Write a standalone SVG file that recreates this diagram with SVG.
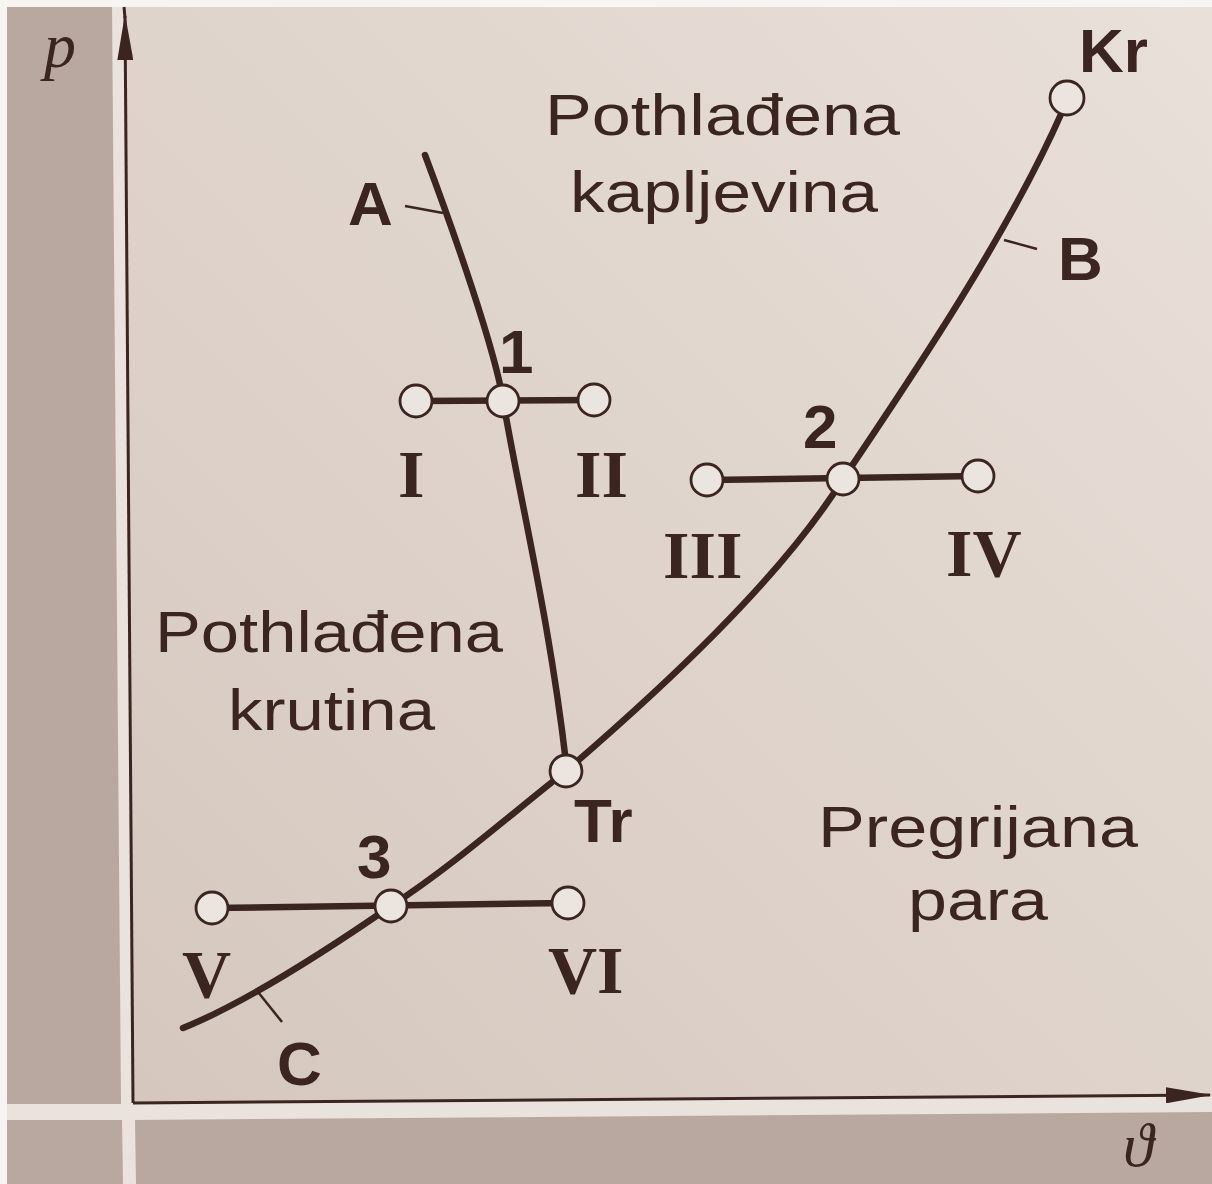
<svg xmlns="http://www.w3.org/2000/svg" width="1212" height="1184" viewBox="0 0 1212 1184">
<defs>
<style>
.ln{fill:none;stroke:#3a2521;stroke-width:6.5;stroke-linecap:round}
.tk{fill:none;stroke:#3a2521;stroke-width:2.5}
.ax{fill:none;stroke:#3a2521;stroke-width:3}
.nd{fill:#ece4de;stroke:#3a2521;stroke-width:2.8}
.rg{font-family:"Liberation Sans",Arial,sans-serif;font-size:58px;fill:#3a2521}
.bl{font-family:"Liberation Sans",Arial,sans-serif;font-weight:bold;font-size:62px;fill:#3a2521}
.rm{font-family:"Liberation Serif","Times New Roman",serif;font-weight:bold;font-size:68px;fill:#3a2521}
.it{font-family:"Liberation Serif","Times New Roman",serif;font-style:italic;fill:#3a2521}
.dk{fill:#b9a89f}
</style>
<linearGradient id="bg" x1="1" y1="0" x2="0" y2="1">
<stop offset="0" stop-color="#e9e0d9"/>
<stop offset="1" stop-color="#d5c7be"/>
</linearGradient>
<marker id="arr" viewBox="0 0 46 16" refX="44" refY="8" markerWidth="46" markerHeight="16" markerUnits="userSpaceOnUse" orient="auto">
<path d="M0,0 L46,8 L0,16 z" fill="#3a2521"/>
</marker>
</defs>

<g id="background">
<rect x="0" y="0" width="1212" height="1184" fill="#eae2dc"/>
<polygon class="dk" points="7,7 112,7 121,1104 7,1104"/>
<polygon class="dk" points="7,1120 122,1120 123,1184 7,1184"/>
<polygon class="dk" points="135,1120 1212,1112 1212,1184 136,1184"/>
<polygon points="125,7 1212,7 1212,1094 133,1103" fill="url(#bg)"/>
<rect x="0" y="0" width="1212" height="7" fill="#f7f4f1"/>
<rect x="0" y="0" width="7" height="1184" fill="#f7f4f1"/>
</g>

<g id="axes">
<path class="ax" d="M133,1103 L125,16" marker-end="url(#arr)"/>
<path class="ax" d="M125,18 L124,7"/>
<path class="ax" d="M133,1103 L1210,1095" marker-end="url(#arr)"/>
<text class="it" x="44" y="67" font-size="64">p</text>
<text class="it" x="1123" y="1166" font-size="62">ϑ</text>
</g>

<g id="connectors">
<path id="curve-A" class="ln" d="M425,155 C455,235 495,350 503,400 C520,500 550,620 567,771"/>
<path id="curve-B" class="ln" d="M566,771 C660,690 780,580 843,479 C920,365 1010,230 1062,112"/>
<path id="curve-C" class="ln" d="M183,1028 C240,1005 320,955 391,906 C450,868 510,815 566,771"/>
<path class="ln" d="M417,401 L594,400"/>
<path class="ln" d="M707,480 L978,476"/>
<path class="ln" d="M212,908 L568,903"/>
<path class="tk" d="M405,206 L443,213"/>
<path class="tk" d="M1004,240 L1037,249"/>
<path class="tk" d="M258,992 L282,1022"/>
</g>

<g id="node-Kr"><circle class="nd" cx="1067" cy="98" r="17"/><text class="bl" x="1079" y="72" font-size="56">Kr</text></g>
<g id="node-1"><circle class="nd" cx="503" cy="401" r="16"/><text class="bl" x="499" y="373" font-size="56">1</text></g>
<g id="node-I"><circle class="nd" cx="416" cy="401" r="16"/><text class="rm" x="398" y="497">I</text></g>
<g id="node-II"><circle class="nd" cx="594" cy="400" r="16"/><text class="rm" x="575" y="497">II</text></g>
<g id="node-2"><circle class="nd" cx="843" cy="479" r="16"/><text class="bl" x="803" y="448" font-size="60">2</text></g>
<g id="node-III"><circle class="nd" cx="707" cy="480" r="16"/><text class="rm" x="663" y="578">III</text></g>
<g id="node-IV"><circle class="nd" cx="978" cy="476" r="16"/><text class="rm" x="946" y="576">IV</text></g>
<g id="node-Tr"><circle class="nd" cx="566" cy="771" r="16"/><text class="bl" x="574" y="842">Tr</text></g>
<g id="node-3"><circle class="nd" cx="391" cy="906" r="16"/><text class="bl" x="357" y="878" font-size="60">3</text></g>
<g id="node-V"><circle class="nd" cx="212" cy="908" r="16"/><text class="rm" x="182" y="997">V</text></g>
<g id="node-VI"><circle class="nd" cx="568" cy="903" r="16"/><text class="rm" x="548" y="993">VI</text></g>

<g id="curve-labels">
<text class="bl" x="348" y="225">A</text>
<text class="bl" x="1058" y="280">B</text>
<text class="bl" x="277" y="1085">C</text>
</g>

<g id="regions">
<text class="rg" x="545" y="135" textLength="355" lengthAdjust="spacingAndGlyphs">Pothlađena</text>
<text class="rg" x="570" y="212" textLength="308" lengthAdjust="spacingAndGlyphs">kapljevina</text>
<text class="rg" x="155" y="652" textLength="348" lengthAdjust="spacingAndGlyphs">Pothlađena</text>
<text class="rg" x="228" y="730" textLength="207" lengthAdjust="spacingAndGlyphs">krutina</text>
<text class="rg" x="818" y="847" textLength="320" lengthAdjust="spacingAndGlyphs">Pregrijana</text>
<text class="rg" x="908" y="920" textLength="140" lengthAdjust="spacingAndGlyphs">para</text>
</g>
</svg>
